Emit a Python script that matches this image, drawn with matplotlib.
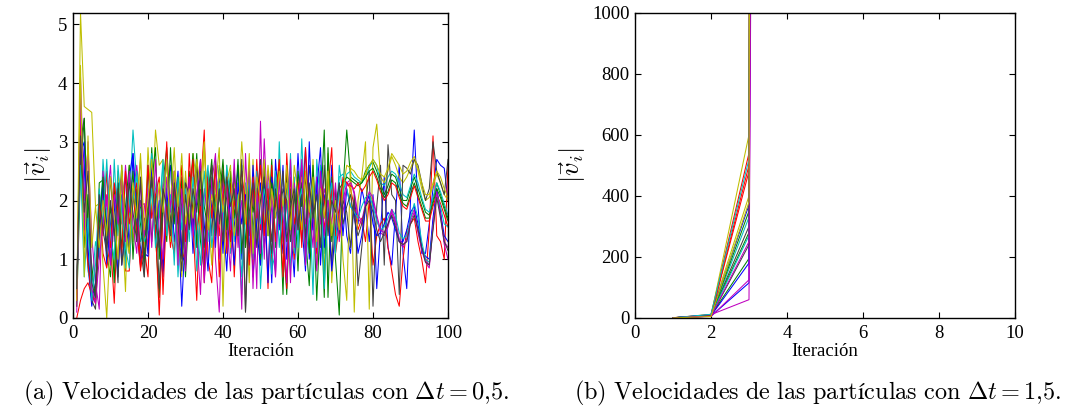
import matplotlib
matplotlib.use("Agg")
import matplotlib.pyplot as plt

plt.rcParams['mathtext.fontset'] = 'cm'
plt.rcParams['font.family'] = 'Liberation Serif'
plt.rcParams['font.size'] = 13.5

# iteration numbers (left panel)
iters = list(range(1, 101))

# |v_i| for every particle, dt = 0.5  (100 iterations each)
v_a = [
    # blue
    [0.3, 3.4, 2.6, 0.9, 0.2, 0.5, 1.8, 2.3, 0.9, 1.6,
     2.1, 0.7, 1.9, 2.4, 1.2, 2.8, 1.5, 0.9, 1.7, 1.1,
     2.7, 1.4, 2.0, 0.8, 2.2, 2.6, 1.3, 1.8, 0.2, 1.5,
     2.4, 1.1, 2.0, 2.7, 0.9, 1.6, 2.3, 1.2, 2.5, 1.7,
     0.8, 2.2, 1.5, 2.6, 1.0, 1.9, 2.4, 0.7, 1.6, 2.3,
     1.2, 2.0, 0.6, 2.7, 1.8, 1.1, 2.4, 1.6, 0.7, 2.3,
     1.9, 2.9, 1.0, 1.7, 2.4, 0.9, 2.1, 1.5, 2.6, 1.2,
     1.8, 2.3, 1.4, 1.1, 2.0, 1.6, 2.2, 1.9, 1.3, 2.1,
     0.5, 1.5, 2.4, 1.2, 0.9, 1.8, 2.6, 1.1, 0.5, 2.0,
     3.2, 1.9, 1.1, 1.1, 1.6, 2.2, 2.7, 2.6, 2.55, 2.0],
    # green
    [0.5, 3.0, 1.2, 2.1, 0.4, 0.3, 2.3, 2.35, 1.1, 0.7,
     2.2, 1.5, 2.6, 1.0, 1.8, 2.5, 1.3, 2.0, 1.0, 1.6,
     2.9, 1.4, 0.35, 2.3, 2.9, 1.6, 2.2, 1.1, 2.4, 0.9,
     2.5, 1.8, 2.8, 1.3, 0.8, 2.1, 2.7, 1.4, 2.6, 2.2,
     1.3, 2.5, 1.7, 2.7, 1.1, 2.0, 2.5, 1.5, 2.1, 0.9,
     2.4, 1.6, 2.7, 1.2, 2.0, 0.4, 2.6, 1.7, 2.2, 0.8,
     2.5, 1.4, 0.55, 2.1, 0.3, 1.8, 3.2, 0.35, 2.4, 1.0,
     0.05, 2.2, 3.2, 2.4, 2.35, 2.3, 2.3, 2.5, 2.6, 2.65,
     2.5, 2.3, 2.1, 2.25, 2.45, 2.4, 2.2, 2.0, 2.0, 2.2,
     2.4, 2.2, 2.0, 1.8, 1.75, 2.0, 2.3, 2.1, 1.9, 1.7],
    # red
    [0.0, 0.3, 0.5, 0.6, 0.4, 0.5, 2.1, 1.1, 0.85, 1.3,
     0.25, 1.9, 2.4, 0.8, 0.8, 2.1, 1.5, 0.85, 1.2, 0.7,
     2.6, 1.5, 0.05, 1.8, 3.0, 1.4, 1.1, 2.3, 1.2, 0.9,
     2.8, 1.6, 0.3, 2.2, 3.2, 1.0, 0.6, 2.1, 1.4, 2.6,
     1.1, 2.3, 0.7, 2.0, 2.5, 1.2, 1.8, 0.9, 2.7, 1.5,
     2.2, 0.5, 2.6, 1.3, 2.1, 0.7, 2.8, 1.6, 1.0, 2.4,
     1.2, 2.9, 1.8, 2.5, 0.9, 2.3, 1.5, 2.2, 2.9, 1.1,
     1.6, 2.4, 2.3, 2.2, 1.9, 1.5, 1.7, 1.3, 2.0, 0.9,
     1.4, 1.6, 1.7, 1.2, 0.8, 0.4, 0.2, 1.0, 1.5, 1.6,
     1.7, 1.3, 1.0, 0.6, 1.5, 3.1, 1.4, 1.3, 1.0, 2.6],
    # cyan
    [0.4, 3.3, 2.0, 0.8, 0.5, 1.3, 1.0, 2.7, 1.8, 0.9,
     2.7, 1.4, 2.1, 0.85, 1.9, 3.2, 2.3, 1.3, 1.5, 2.0,
     2.8, 2.2, 1.7, 2.6, 2.0, 1.5, 2.3, 0.7, 1.9, 2.4,
     1.6, 2.2, 0.8, 1.8, 2.5, 1.3, 2.2, 1.9, 2.5, 1.7,
     2.3, 1.1, 2.4, 1.6, 0.4, 2.3, 1.8, 1.3, 2.5, 0.5,
     1.6, 2.3, 1.1, 0.8, 3.0, 1.4, 2.0, 0.8, 2.4, 1.2,
     3.05, 1.5, 2.2, 0.4, 2.7, 1.9, 1.1, 2.5, 2.0, 1.3,
     2.6, 2.1, 2.45, 2.5, 2.4, 2.35, 2.3, 2.4, 2.55, 2.7,
     2.6, 2.3, 2.25, 2.4, 2.5, 2.45, 2.3, 2.1, 2.05, 2.25,
     2.45, 2.3, 2.05, 1.85, 1.8, 2.05, 2.3, 2.15, 1.95, 1.75],
    # magenta
    [0.3, 4.1, 2.0, 2.9, 1.4, 0.6, 0.15, 2.5, 1.9, 2.6,
     1.3, 2.0, 1.6, 2.6, 1.8, 2.1, 2.6, 1.9, 1.95, 1.2,
     2.5, 1.9, 1.2, 2.2, 2.7, 1.8, 2.5, 1.3, 1.1, 2.3,
     1.9, 2.6, 1.4, 0.4, 2.2, 1.7, 2.4, 1.0, 0.1, 2.3,
     1.6, 0.8, 2.4, 1.9, 0.15, 2.8, 1.4, 2.2, 0.5, 3.35,
     1.0, 2.5, 1.8, 0.7, 2.4, 1.3, 2.0, 0.6, 2.3, 1.5,
     2.7, 1.6, 2.0, 1.2, 2.4, 1.6, 2.2, 1.9, 2.2, 1.7,
     1.5, 2.0, 2.3, 2.35, 2.1, 1.7, 1.6, 1.9, 2.1, 2.0,
     1.7, 1.45, 1.4, 1.55, 1.8, 1.6, 1.3, 1.2, 1.35, 1.7,
     1.85, 1.5, 1.2, 1.0, 0.9, 1.6, 2.2, 1.8, 1.3, 1.2],
    # yellow
    [0.2, 5.2, 3.6, 3.55, 3.5, 1.9, 1.95, 0.9, 0.0, 1.5,
     0.8, 2.5, 1.7, 0.45, 2.6, 1.3, 2.0, 2.7, 1.2, 2.9,
     1.7, 3.2, 2.6, 2.7, 1.6, 2.0, 2.9, 1.5, 0.7, 2.5,
     1.6, 2.8, 2.3, 1.5, 2.9, 1.9, 0.9, 2.2, 2.9, 0.2,
     2.6, 1.2, 2.3, 1.8, 3.0, 2.1, 0.6, 2.7, 1.3, 2.1,
     1.5, 2.6, 1.9, 2.3, 2.5, 1.8, 2.6, 1.5, 2.2, 1.7,
     2.4, 2.0, 1.2, 2.7, 0.9, 2.3, 0.7, 2.8, 0.6, 1.7,
     2.2, 1.0, 0.3, 2.6, 0.1, 2.0, 2.4, 3.0, 0.15, 2.9,
     3.3, 2.4, 2.3, 2.5, 2.75, 2.6, 2.4, 2.3, 2.4, 2.55,
     2.7, 2.5, 2.2, 2.0, 2.05, 2.25, 2.45, 2.3, 2.1, 2.0],
    # dark grey
    [0.4, 3.0, 3.4, 1.0, 0.3, 0.15, 1.5, 2.0, 1.2, 2.4,
     1.5, 0.6, 2.5, 1.7, 1.1, 2.2, 1.8, 1.2, 0.7, 2.6,
     1.3, 2.1, 0.5, 1.9, 2.7, 1.5, 1.7, 2.0, 1.0, 2.3,
     2.1, 1.5, 2.6, 1.9, 0.9, 2.5, 1.4, 2.7, 1.6, 2.5,
     2.0, 1.4, 2.5, 1.7, 2.3, 0.1, 2.4, 1.3, 2.0, 2.7,
     1.5, 2.0, 1.3, 2.4, 1.7, 2.2, 2.0, 1.3, 2.1, 1.6,
     2.3, 1.0, 2.6, 2.0, 1.3, 2.6, 1.7, 2.0, 0.9, 2.2,
     1.4, 2.0, 1.8, 1.2, 2.1, 0.55, 1.2, 1.9, 2.5, 0.2,
     1.9, 2.6, 0.9, 2.95, 2.1, 2.0, 0.4, 2.6, 2.55, 2.45,
     2.7, 2.6, 2.3, 2.0, 2.2, 3.0, 2.5, 2.3, 2.1, 2.7],
    # blue
    [0.6, 2.8, 3.0, 1.2, 0.3, 0.6, 1.3, 2.3, 1.6, 0.95,
     1.8, 2.3, 0.9, 1.5, 2.4, 2.8, 1.9, 1.0, 1.1, 1.05,
     2.6, 1.8, 1.3, 0.7, 2.2, 1.3, 1.8, 2.5, 1.1, 0.9,
     2.3, 1.5, 2.1, 2.6, 1.6, 0.8, 2.0, 1.5, 2.4, 1.1,
     2.5, 1.7, 0.9, 2.3, 1.6, 2.1, 1.1, 2.6, 1.5, 0.9,
     2.3, 0.6, 2.4, 1.9, 1.5, 2.6, 1.0, 2.1, 1.4, 2.8,
     1.6, 0.8, 3.0, 1.5, 2.2, 2.9, 1.2, 1.8, 0.8, 1.5,
     2.3, 1.4, 2.2, 1.9, 1.8, 1.1, 1.4, 1.9, 2.1, 1.6,
     1.4, 1.45, 1.6, 1.8, 1.7, 1.5, 1.3, 1.3, 1.5, 1.8,
     1.9, 1.6, 1.2, 1.05, 1.0, 1.7, 2.2, 1.8, 1.4, 1.3],
    # green
    [0.2, 2.5, 3.4, 1.5, 0.9, 0.3, 1.6, 2.4, 1.4, 1.9,
     0.6, 2.3, 1.2, 1.9, 2.6, 1.0, 2.2, 1.6, 0.95, 2.0,
     2.3, 2.9, 1.0, 2.0, 1.3, 2.9, 1.6, 2.4, 1.9, 0.7,
     2.0, 2.8, 1.2, 2.5, 1.9, 1.5, 2.6, 1.8, 2.0, 2.7,
     1.5, 2.4, 2.1, 1.4, 2.6, 1.2, 2.4, 1.8, 2.2, 1.0,
     2.6, 1.4, 2.3, 1.9, 2.6, 1.5, 0.4, 2.2, 1.3, 2.5,
     1.9, 2.4, 1.1, 2.6, 1.4, 2.1, 0.35, 2.9, 1.3, 2.0,
     2.2, 2.3, 2.4, 2.35, 2.3, 2.25, 2.3, 2.4, 2.5, 2.55,
     2.4, 2.2, 2.05, 2.15, 2.35, 2.3, 2.1, 1.95, 1.9, 2.1,
     2.3, 2.1, 1.9, 1.7, 1.7, 1.95, 2.2, 2.05, 1.85, 1.65],
    # red
    [0.3, 3.3, 1.6, 0.9, 0.4, 0.25, 2.0, 1.4, 2.5, 1.2,
     2.3, 1.8, 1.1, 2.5, 1.6, 2.0, 2.3, 0.8, 1.4, 2.6,
     1.7, 2.1, 2.4, 0.4, 1.9, 1.2, 2.2, 1.6, 2.6, 1.3,
     2.1, 2.7, 1.5, 1.9, 0.6, 2.4, 1.7, 2.6, 0.7, 2.1,
     2.4, 1.3, 2.0, 1.6, 2.5, 1.9, 0.9, 2.4, 1.7, 2.6,
     1.4, 2.2, 0.9, 2.0, 2.7, 1.3, 0.5, 2.4, 1.6, 2.0,
     1.3, 2.5, 1.7, 2.3, 1.1, 2.4, 2.0, 1.5, 2.2, 1.4,
     1.9, 2.35, 2.3, 2.25, 2.2, 2.3, 2.15, 2.25, 2.4, 2.5,
     2.35, 2.15, 2.0, 2.1, 2.3, 2.25, 2.05, 1.9, 1.85, 2.05,
     2.25, 2.05, 1.85, 1.65, 1.65, 1.9, 2.1, 1.95, 1.75, 1.55],
    # cyan
    [0.5, 2.6, 0.7, 1.7, 0.3, 0.9, 2.2, 1.6, 2.7, 1.4,
     1.0, 2.6, 1.8, 1.2, 0.85, 2.0, 2.5, 1.7, 1.3, 1.5,
     2.2, 1.2, 1.8, 2.7, 1.4, 2.1, 0.9, 2.4, 1.5, 2.2,
     1.3, 2.4, 1.7, 0.9, 2.1, 2.6, 1.2, 1.8, 2.3, 1.5,
     2.6, 2.0, 1.3, 2.1, 0.7, 1.7, 2.4, 1.0, 2.1, 1.6,
     2.2, 1.8, 0.75, 2.5, 1.2, 2.0, 1.5, 2.8, 1.1, 1.9,
     2.2, 0.9, 1.6, 2.3, 1.2, 2.6, 0.5, 1.9, 2.3, 1.1,
     2.4, 2.45, 2.2, 1.9, 1.8, 1.7, 1.9, 2.05, 2.1, 1.9,
     1.65, 1.5, 1.55, 1.7, 1.85, 1.75, 1.45, 1.35, 1.4, 1.7,
     1.95, 1.7, 1.3, 1.0, 0.95, 1.55, 2.1, 1.9, 1.6, 1.55],
    # magenta
    [0.1, 3.7, 1.5, 3.0, 0.5, 0.25, 1.0, 1.6, 2.1, 0.9,
     2.1, 1.6, 2.4, 1.3, 2.5, 1.6, 1.1, 2.3, 1.4, 2.2,
     1.2, 2.7, 1.5, 1.0, 2.4, 1.9, 2.5, 0.9, 2.2, 0.8,
     2.4, 1.4, 2.1, 2.7, 0.6, 1.6, 2.3, 2.8, 1.0, 1.9,
     2.2, 1.5, 2.7, 1.2, 2.0, 1.7, 2.6, 0.5, 2.2, 1.1,
     3.05, 1.6, 2.1, 0.7, 2.4, 1.8, 0.6, 2.7, 1.2, 2.0,
     2.6, 0.9, 2.2, 1.7, 0.8, 2.5, 1.4, 2.0, 1.6, 2.3,
     1.3, 1.8, 2.25, 2.3, 2.15, 1.75, 1.65, 1.95, 2.15, 2.05,
     1.75, 1.5, 1.45, 1.6, 1.85, 1.65, 1.35, 1.25, 1.3, 1.65,
     1.8, 1.45, 1.15, 0.95, 0.85, 1.55, 2.15, 1.75, 1.25, 1.0],
    # yellow
    [0.3, 4.3, 0.7, 3.1, 1.2, 1.9, 1.2, 2.0, 1.4, 2.4,
     1.7, 1.0, 2.6, 1.5, 1.1, 2.3, 1.7, 2.8, 1.5, 2.0,
     2.7, 1.6, 2.3, 1.8, 2.7, 1.3, 2.5, 1.9, 2.8, 1.6,
     2.2, 1.7, 2.7, 2.2, 3.0, 1.5, 2.1, 1.7, 2.5, 1.8,
     2.3, 2.6, 1.4, 2.0, 2.4, 1.6, 2.8, 1.1, 2.4, 2.0,
     2.7, 1.4, 2.2, 1.7, 2.5, 1.9, 2.3, 1.5, 2.6, 2.1,
     1.5, 2.5, 1.8, 2.4, 1.3, 2.2, 1.7, 2.5, 1.4, 2.0,
     1.5, 2.2, 2.6, 2.55, 2.5, 2.4, 2.35, 2.45, 2.6, 2.7,
     2.6, 2.45, 2.4, 2.55, 2.8, 2.7, 2.6, 2.45, 2.5, 2.65,
     2.75, 2.55, 2.3, 2.1, 2.1, 2.3, 2.5, 2.4, 2.2, 2.05],
    # dark grey
    [0.5, 3.1, 1.8, 2.5, 0.6, 0.35, 2.1, 1.5, 1.1, 2.0,
     1.4, 2.2, 0.9, 1.6, 2.3, 1.8, 1.3, 2.4, 0.7, 1.8,
     2.4, 1.7, 1.2, 2.2, 1.9, 1.4, 2.3, 1.6, 0.8, 2.1,
     1.5, 2.2, 1.8, 2.5, 1.2, 2.0, 2.6, 1.4, 2.2, 1.3,
     2.4, 1.9, 2.2, 1.4, 2.7, 0.1, 1.8, 2.3, 1.2, 2.0,
     2.4, 1.7, 1.1, 2.2, 1.6, 2.5, 1.3, 1.9, 2.2, 1.5,
     2.1, 1.4, 2.3, 1.7, 2.1, 1.2, 2.6, 1.4, 2.0, 1.8,
     2.3, 1.6, 1.9, 2.1, 1.7, 1.4, 1.6, 1.9, 2.0, 1.8,
     1.5, 1.3, 1.45, 1.6, 1.75, 1.55, 1.3, 1.25, 1.3, 1.6,
     1.75, 1.5, 1.2, 0.95, 0.9, 1.5, 2.05, 1.7, 1.3, 1.15],
]

# dt = 1.5 : iterations 1..4, the velocities blow up after iteration 3
iters_b = [1, 2, 3, 4]
v_at_1 = [0.3, 0.5, 0.8, 0.4, 0.6, 0.9, 0.5, 0.3, 0.7, 0.6,
          0.4, 0.8, 0.5, 0.3, 0.6, 0.7, 0.4, 0.5, 0.6, 0.3]
v_at_2 = [6, 9, 11, 8, 5, 12, 9, 7, 10, 8,
          9, 11, 7, 6, 10, 8, 7, 12, 6, 5]
v_at_3 = [115, 195, 540, 330, 125, 400, 300, 180, 280, 480,
          270, 60, 600, 240, 370, 350, 500, 520, 250, 380]
v_at_4 = [3.1e4, 4.2e4, 6.0e4, 5.0e4, 2.6e4, 5.5e4, 4.8e4, 3.5e4, 4.4e4, 5.9e4,
          4.1e4, 2.2e4, 7.0e4, 3.9e4, 5.2e4, 5.1e4, 6.2e4, 6.4e4, 3.8e4, 5.6e4]

colors = ['#0000ff', '#008000', '#ff0000', '#00bfbf', '#bf00bf', '#bfbf00', '#404040']

fig = plt.figure(figsize=(10.72, 4.09), dpi=100)
W, H = 1072.0, 409.0
ax1 = fig.add_axes([73 / W, (H - 318) / H, 375 / W, 305.5 / H])
ax2 = fig.add_axes([635 / W, (H - 318) / H, 380 / W, 305.5 / H])

for i, v in enumerate(v_a):
    ax1.plot(iters, v, color=colors[i % 7], lw=0.75)

for i in range(len(v_at_3)):
    ax2.plot(iters_b, [v_at_1[i], v_at_2[i], v_at_3[i], v_at_4[i]],
             color=colors[i % 7], lw=0.75)

ax1.set_xlim(0, 100)
ax1.set_ylim(0, 5.2)
ax1.set_xticks([0, 20, 40, 60, 80, 100])
ax1.set_yticks([0, 1, 2, 3, 4, 5])

ax2.set_xlim(0, 10)
ax2.set_ylim(0, 1000)
ax2.set_xticks([0, 2, 4, 6, 8, 10])
ax2.set_yticks([0, 200, 400, 600, 800, 1000])

for ax in (ax1, ax2):
    ax.tick_params(direction='in', top=True, right=True, length=4, width=0.8,
                   pad=5, labelsize=13.5)
    ax.tick_params(axis='y', pad=4)
    for s in ax.spines.values():
        s.set_linewidth(1.0)
    ax.set_xlabel('Iteración', fontsize=13.5, labelpad=1)
    ax.set_ylabel(r'$|\vec{v}_i|$', fontsize=19, labelpad=3)

cap_a = r'$\mathrm{(a)\ Velocidades\ de\ las\ partículas\ con}\ \Delta t = 0{,}5.$'
cap_b = r'$\mathrm{(b)\ Velocidades\ de\ las\ partículas\ con}\ \Delta t = 1{,}5.$'
fig.text(266 / W, 1 - 393 / H, cap_a, ha='center', va='center', fontsize=17.5)
fig.text(818 / W, 1 - 393 / H, cap_b, ha='center', va='center', fontsize=17.5)

fig.savefig('out.png', dpi=100)
